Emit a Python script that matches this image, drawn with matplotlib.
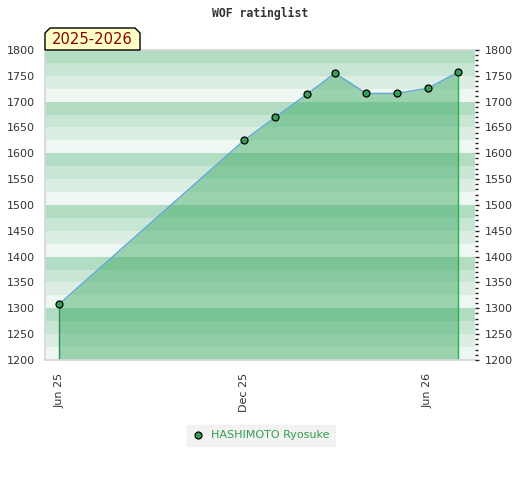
import matplotlib
matplotlib.use("Agg")
import matplotlib.pyplot as plt
import matplotlib.dates as mdates
from matplotlib.patches import Polygon
from matplotlib.lines import Line2D
from matplotlib.ticker import MultipleLocator
import datetime as dt

# ---- data ----
dates = ["2025-06-01", "2025-12-01", "2026-01-01", "2026-02-01", "2026-03-01",
         "2026-04-01", "2026-05-01", "2026-06-01", "2026-07-01"]
ratings = [1308, 1625, 1670, 1714, 1755, 1716, 1716, 1726, 1757]
player = "HASHIMOTO Ryosuke"
season = "2025-2026"
title = "WOF ratinglist"
tick_dates = ["2025-06-01", "2025-12-01", "2026-06-01"]
tick_labels = ["Jun 25", "Dec 25", "Jun 26"]
y_min, y_max = 1200, 1800

x = [dt.datetime.strptime(d, "%Y-%m-%d") for d in dates]
xt = [dt.datetime.strptime(d, "%Y-%m-%d") for d in tick_dates]

W, H = 520, 480
fig = plt.figure(figsize=(W / 100, H / 100), dpi=100)
ax = fig.add_axes([45 / W, 1 - 360 / H, 430 / W, 310 / H])

# background bands (25 each, cycling within each 100)
band_cols = ["#EFF7F2", "#DCEEE3", "#C8E6D4", "#B3DDC3"]
for i, lo in enumerate(range(y_min, y_max, 25)):
    ax.axhspan(lo, lo + 25, color=band_cols[i % 4], lw=0, zorder=0)

# area fill
ax.fill_between(x, ratings, y_min, color="#3FAA64", alpha=0.48, lw=0, zorder=1)
ax.vlines([x[0]], y_min, ratings[0], color="#2E8B57", lw=1, zorder=2)
ax.vlines([x[-1]], y_min, ratings[-1], color="#2DB04B", lw=1, zorder=2)
ax.plot(x, ratings, color="#5DA5DA", lw=1, zorder=3)
ax.plot(x, ratings, ls="none", marker="o", ms=5, mfc="#33A058", mec="black",
        mew=0.9, zorder=4)

x0 = x[0] - dt.timedelta(days=13.9)
x1 = x[-1] + dt.timedelta(days=16.6)
ax.set_xlim(x0, x1)
ax.set_ylim(y_min, y_max)

ax.set_xticks(xt)
ax.set_xticklabels(tick_labels, rotation=90, fontsize=8, color="#333333")
ax.tick_params(axis="x", length=0, pad=9)
ax.yaxis.set_major_locator(MultipleLocator(50))
ax.tick_params(axis="y", length=0, pad=7, labelsize=8, labelcolor="#333333")

for s in ["left", "bottom", "top"]:
    ax.spines[s].set_color("#D6D6D6")
    ax.spines[s].set_linewidth(1.2)
ax.spines["right"].set_visible(False)

ax2 = ax.twinx()
ax2.set_ylim(y_min, y_max)
ax2.yaxis.set_major_locator(MultipleLocator(50))
ax2.yaxis.set_minor_locator(MultipleLocator(10))
ax2.tick_params(axis="y", which="major", length=3, width=1, pad=4,
                labelsize=8, labelcolor="#333333", color="#222222")
ax2.tick_params(axis="y", which="minor", length=2, width=1, color="#222222")
for s in ax2.spines.values():
    s.set_visible(False)

# title
fig.text(0.5, 1 - 13 / H, title, ha="center", va="center",
         family="DejaVu Sans Mono", weight="bold", fontsize=8.3, color="#333333")

# season label box
pts = [(45, 50), (45, 33), (50, 28), (135, 28), (140, 33), (140, 50)]
poly = Polygon([(px / W, 1 - py / H) for px, py in pts], closed=True,
               transform=fig.transFigure, facecolor="#FFFFC8",
               edgecolor="black", lw=1, zorder=5)
fig.patches.append(poly)
fig.text(92.5 / W, 1 - 40 / H, season, ha="center", va="center",
         fontsize=10.6, color="#8B0000", zorder=6)

# legend
handle = Line2D([], [], ls="none", marker="o", ms=5, mfc="#33A058",
                mec="black", mew=0.9)
leg = fig.legend([handle], [player], loc="center",
                 bbox_to_anchor=(261 / W, 1 - 435.5 / H),
                 frameon=True, fancybox=False, fontsize=8,
                 handlelength=1.0, handletextpad=0.6, borderpad=0.5)
leg.get_frame().set_facecolor("#F0F0F0")
leg.get_frame().set_edgecolor("#F0F0F0")
for t in leg.get_texts():
    t.set_color("#2E9E4E")

fig.savefig("out.png", dpi=100)
